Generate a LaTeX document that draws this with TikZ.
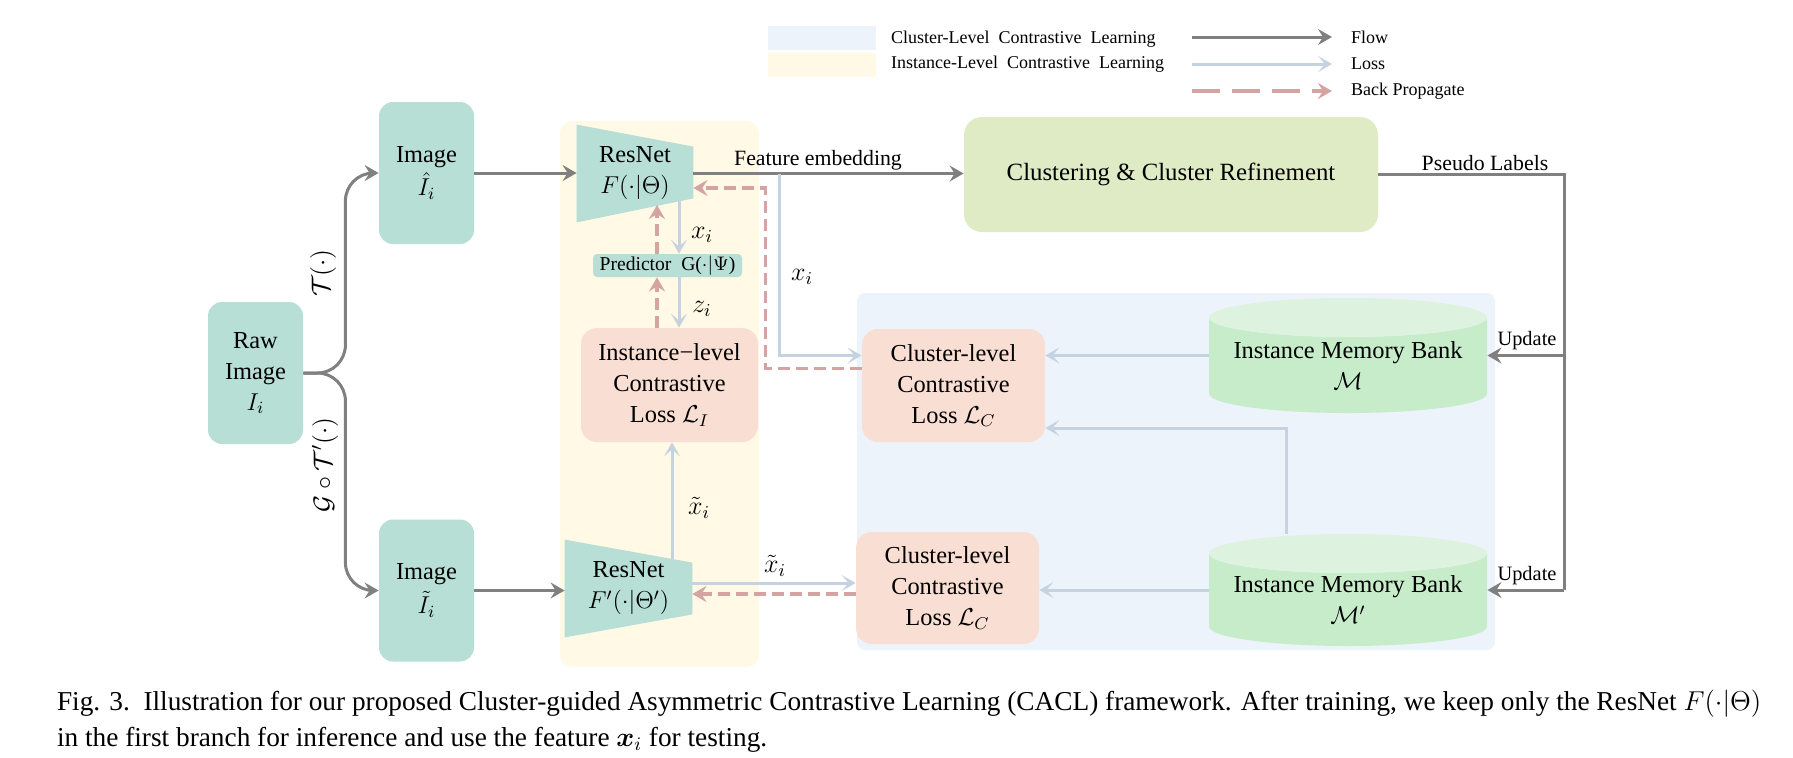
\RequirePackage{fix-cm}
\documentclass[tikz,border=0pt]{standalone}
\usepackage{amsmath}
\usepackage{fontspec}
\setmainfont{Liberation Serif}
\usetikzlibrary{arrows.meta,calc,shapes.geometric,backgrounds}

\definecolor{tealc}{RGB}{183,223,214}
\definecolor{peach}{RGB}{249,222,211}
\definecolor{clusgreen}{RGB}{222,235,197}
\definecolor{bankbody}{RGB}{198,236,202}
\definecolor{banktop}{RGB}{221,242,223}
\definecolor{yellowbg}{RGB}{255,249,230}
\definecolor{bluebg}{RGB}{237,243,250}
\definecolor{flowgray}{RGB}{128,128,128}
\definecolor{lossblue}{RGB}{197,210,223}
\definecolor{bpred}{RGB}{214,163,163}

\newdimen\pxu
\pxu=0.5pt

\tikzset{
  boxfont/.style={font=\fontsize{12.2}{15.5}\selectfont},
  smallfont/.style={font=\fontsize{10.9}{13}\selectfont},
  legfont/.style={font=\fontsize{9}{11}\selectfont},
  mathlbl/.style={font=\fontsize{13}{15}\selectfont},
  tealbox/.style={font=\fontsize{12.2}{16.8}\selectfont, fill=tealc, rounded corners=7pt,
    inner sep=0pt, align=center, minimum width=95\pxu, minimum height=142\pxu},
  resnet/.style={boxfont, inner sep=0pt, align=center, minimum height=97\pxu},
  predbox/.style={font=\fontsize{9.8}{11}\selectfont, fill=tealc, rounded corners=2pt,
    inner sep=0pt, minimum width=149\pxu, minimum height=23\pxu},
  lossbox/.style={boxfont, fill=peach, rounded corners=8pt, inner sep=0pt, align=center,
    minimum width=183\pxu, minimum height=113\pxu},
  clusbox/.style={font=\fontsize{12.4}{15}\selectfont, fill=clusgreen, rounded corners=9pt,
    minimum width=414\pxu, minimum height=115\pxu},
  bank/.style={boxfont, cylinder, shape border rotate=90, aspect=0.17, inner sep=0pt,
    cylinder uses custom fill, cylinder body fill=bankbody, cylinder end fill=banktop,
    minimum width=278\pxu, minimum height=115\pxu, align=center, anchor=shape center},
  flow/.style={draw=flowgray, line width=1.5pt, -{Stealth[length=7pt,width=8pt,inset=2.5pt]}},
  loss/.style={draw=lossblue, line width=1.5pt, -{Stealth[length=7pt,width=8pt,inset=3.5pt]}},
  backprop/.style={draw=bpred, line width=1.6pt, dash pattern=on 6pt off 3pt,
    -{Stealth[length=7pt,width=8pt,inset=2.5pt]}},
}

\begin{document}
\begin{tikzpicture}[x=0.5pt, y=-0.5pt]
    \useasboundingbox (0,0) rectangle (1793,757);

    \node[fill=bluebg, minimum width=108\pxu, minimum height=24\pxu] (swA) at (822,38) {};
    \node[fill=yellowbg, minimum width=108\pxu, minimum height=24\pxu] (swB) at (822,65) {};
    \node[legfont, anchor=west] (lgA) at (884,39) {Cluster-Level\ \ Contrastive\ \ Learning};
    \node[legfont, anchor=west] (lgB) at (884,64) {Instance-Level\ \ Contrastive\ \ Learning};
    \node[legfont, anchor=west] (lgC) at (1344,37) {Flow};
    \node[legfont, anchor=west] (lgD) at (1344,64) {Loss};
    \node[legfont, anchor=west] (lgE) at (1344,91) {Back Propagate};
    \coordinate (laA) at (1192,37);
    \coordinate (laB) at (1192,64);
    \coordinate (laC) at (1192,91);
    \draw[flow] (laA) -- (laA -| 1332,0);
    \draw[loss] (laB) -- (laB -| 1332,0);
    \draw[backprop, dash pattern=on 14pt off 6pt] (laC) -- (laC -| 1332,0);

    \node[tealbox, font=\fontsize{12.2}{15.5}\selectfont] (raw) at (255.5,373) {Raw\\Image\\$I_i$};
    \node[tealbox] (imgA) at (426.5,173) {Image\\$\hat{I}_i$};
    \node[tealbox] (imgB) at (426.5,590.5) {Image\\$\tilde{I}_i$};
    \node[resnet, minimum width=116\pxu] (resA) at (635,173.5) {ResNet\\$F(\cdot|\Theta)$};
    \node[resnet, minimum width=127\pxu] (resB) at (628.5,588.5) {ResNet\\$F'(\cdot|\Theta')$};
    \node[predbox] (pred) at (667.5,265.5) {Predictor\ \ G($\cdot|\Psi$)};
    \node[lossbox, minimum width=177\pxu, minimum height=114\pxu] (lossI) at (669.5,385)
        {Instance−level\\Contrastive\\Loss $\mathcal{L}_I$};
    \node[lossbox] (lossA) at (953.5,385.5) {Cluster-level\\Contrastive\\Loss $\mathcal{L}_C$};
    \node[lossbox, minimum height=112\pxu] (lossB) at (947.5,588) {Cluster-level\\Contrastive\\Loss $\mathcal{L}_C$};
    \node[clusbox] (clus) at (1171,174.5) {Clustering \& Cluster Refinement};
    \node[bank] (bankA) at (1348,355.5) {Instance Memory Bank\\$\mathcal{M}$};
    \node[bank, minimum height=112\pxu] (bankB) at (1348,590) {Instance Memory Bank\\$\mathcal{M}'$};

    \begin{pgfonlayer}{background}
        \fill[yellowbg, rounded corners=6pt] (560,121) rectangle (759,667);
        \fill[bluebg, rounded corners=4pt] (857,293) rectangle (1495,650);
        \fill[tealc] (resA.north west) -- ($(resA.north east)+(0,22)$)
            -- ($(resA.south east)+(0,-24)$) -- (resA.south west) -- cycle;
        \fill[tealc] (resB.north west) -- ($(resB.north east)+(0,23)$)
            -- ($(resB.south east)+(0,-23)$) -- (resB.south west) -- cycle;
    \end{pgfonlayer}

    \draw[flow, rounded corners=14pt] (raw.east) -- ++(42,0) |- (imgA.west);
    \draw[flow, rounded corners=14pt] (raw.east) -- ++(42,0) |- (imgB.west);
    \node[mathlbl, rotate=90] (tA) at (323,273) {$\mathcal{T}(\cdot)$};
    \node[mathlbl, rotate=90] (tB) at (325,465) {$\mathcal{G}\circ\mathcal{T}'(\cdot)$};

    \draw[flow] (imgA.east) -- (imgA.east -| resA.west);
    \draw[flow] (imgB.east) -- (imgB.east -| resB.west);
    \draw[flow] (resA.east) -- (resA.east -| clus.west);
    \node[smallfont] (feat) at (818,160) {Feature embedding};

    \coordinate (fb) at (779,173.5);
    \draw[loss] (fb) |- ($(lossA.west)+(0,-30)$);
    \node[mathlbl] (xA) at (802,277) {$x_i$};
    \draw[backprop] ($(lossA.west)+(0,-17)$) -- ++(-96,0) |- ($(resA.east)+(0,14.5)$);

    \coordinate (ra) at (679,201);
    \coordinate (rb) at (657,205);
    \draw[loss] (ra) -- (ra |- pred.north);
    \draw[loss] (pred.south -| ra) -- (ra |- lossI.north);
    \draw[backprop] (lossI.north -| rb) -- (pred.south -| rb);
    \draw[backprop] (pred.north -| rb) -- (rb);
    \node[mathlbl] (xB) at (702,235) {$x_i$};
    \node[mathlbl] (zA) at (702,309) {$z_i$};

    \coordinate (rc) at (672,559);
    \draw[loss] (rc) -- (rc |- lossI.south);
    \node[mathlbl] (xC) at (699,508) {$\tilde{x}_i$};
    \draw[loss] ($(resB.east)+(0,-5.5)$) -- ($(lossB.west)+(0,-5)$);
    \draw[backprop] ($(lossB.west)+(0,6)$) -- ($(resB.east)+(0,5.5)$);
    \node[mathlbl] (xD) at (775,566) {$\tilde{x}_i$};

    \draw[loss] (bankA.west |- bankA.shape center) -- (bankA.shape center -| lossA.east);
    \draw[loss] ($(bankB.north)+(-62,0)$) |- ($(lossA.east)+(0,42.5)$);
    \draw[loss] (bankB.west |- bankB.shape center) -- (bankB.shape center -| lossB.east);

    \coordinate (pl) at (1564,174.5);
    \draw[flow, -] (clus.east) -- (pl) -- (pl |- bankB.shape center);
    \draw[flow] (pl |- bankA.shape center) -- (bankA.east |- bankA.shape center);
    \draw[flow] (pl |- bankB.shape center) -- (bankB.east |- bankB.shape center);
    \node[smallfont] (plbl) at (1485,163) {Pseudo Labels};
    \node[smallfont, font=\fontsize{10.2}{12}\selectfont] (upA) at (1527,341) {Update};
    \node[smallfont, font=\fontsize{10.2}{12}\selectfont] (upB) at (1527,576) {Update};

    \node[font=\fontsize{13.65}{18}\selectfont, anchor=west, align=left] (cap) at (50,721)
        {Fig. 3.\ \ Illustration for our proposed Cluster-guided Asymmetric Contrastive Learning (CACL) framework. After training, we keep only the ResNet $F(\cdot|\Theta)$\\
         in the first branch for inference and use the feature $\boldsymbol{x}_i$ for testing.};
\end{tikzpicture}
\end{document}
